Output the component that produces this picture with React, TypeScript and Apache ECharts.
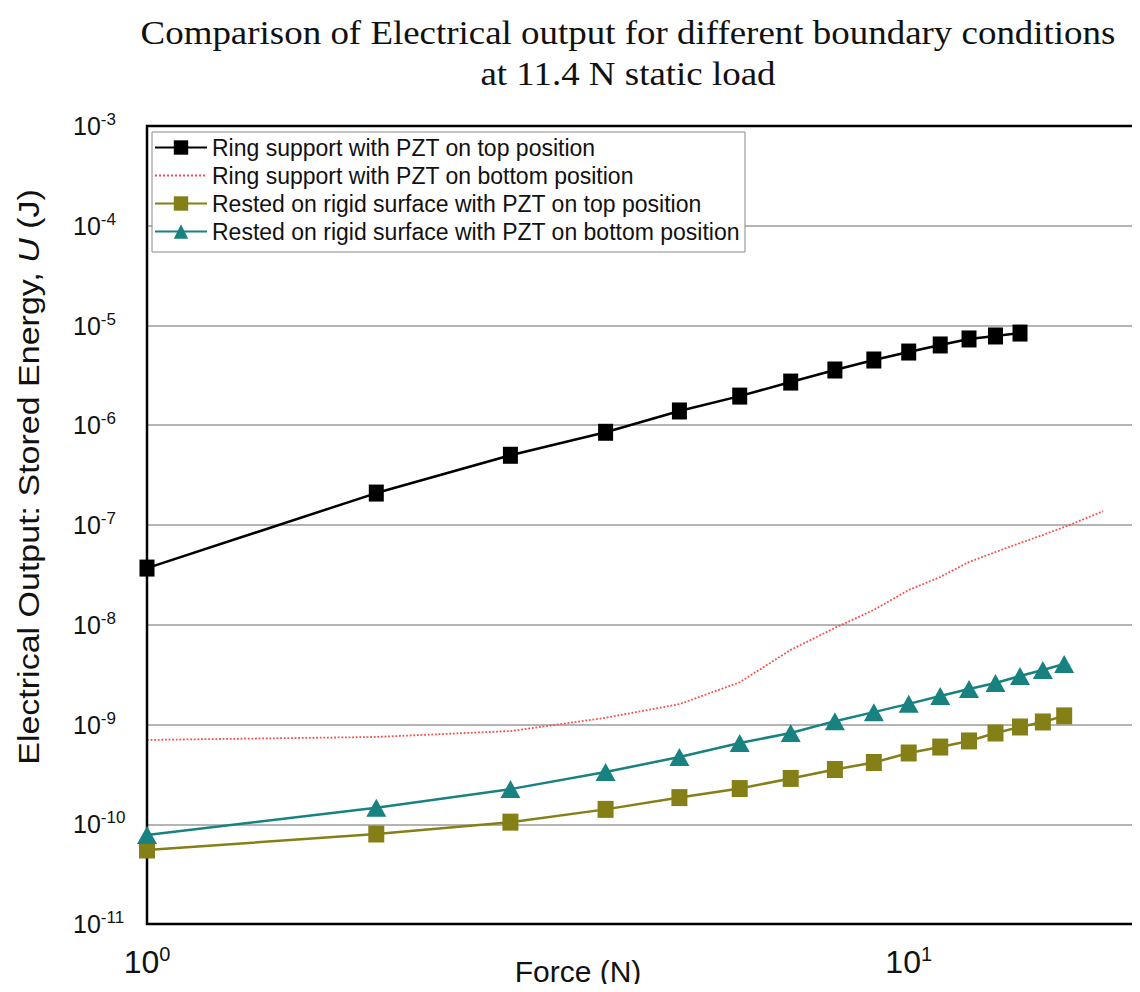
import React, { useEffect, useRef } from 'react';
import * as echarts from 'echarts';

const TITLE_LINES = [
  'Comparison of Electrical output for different boundary conditions',
  'at 11.4 N static load',
];
const SERIES_NAMES = [
  'Ring support with PZT on top position',
  'Ring support with PZT on bottom position',
  'Rested on rigid surface with PZT on top position',
  'Rested on rigid surface with PZT on bottom position',
];
const X_AXIS_NAME = 'Force (N)';
const Y_AXIS_NAME_PARTS = ['Electrical Output: Stored Energy, ', 'U', ' (J)'];

const forceRingTop = [1, 2, 3, 4, 5, 6, 7, 8, 9, 10, 11, 12, 13, 14];
const energyRingTop = [3.7e-8, 2.09e-7, 5.0e-7, 8.5e-7, 1.39e-6, 1.96e-6, 2.71e-6, 3.58e-6, 4.51e-6, 5.42e-6, 6.38e-6, 7.33e-6, 7.85e-6, 8.4e-6];

const forceRingBottom = [1, 2, 3, 4, 5, 6, 7, 8, 9, 10, 11, 12, 13, 14, 15, 16, 17, 18];
const energyRingBottom = [7.0e-10, 7.5e-10, 8.6e-10, 1.17e-9, 1.6e-9, 2.65e-9, 5.6e-9, 9.3e-9, 1.41e-8, 2.23e-8, 3.01e-8, 4.26e-8, 5.36e-8, 6.6e-8, 7.94e-8, 9.55e-8, 1.15e-7, 1.38e-7];

const forceRigidTop = [1, 2, 3, 4, 5, 6, 7, 8, 9, 10, 11, 12, 13, 14, 15, 16];
const energyRigidTop = [5.52e-11, 7.98e-11, 1.05e-10, 1.41e-10, 1.85e-10, 2.28e-10, 2.88e-10, 3.54e-10, 4.16e-10, 5.18e-10, 5.94e-10, 6.84e-10, 8.22e-10, 9.44e-10, 1.06e-9, 1.22e-9];

const forceRigidBottom = [1, 2, 3, 4, 5, 6, 7, 8, 9, 10, 11, 12, 13, 14, 15, 16];
const energyRigidBottom = [7.8e-11, 1.46e-10, 2.25e-10, 3.34e-10, 4.72e-10, 6.53e-10, 8.22e-10, 1.08e-9, 1.33e-9, 1.61e-9, 1.93e-9, 2.27e-9, 2.61e-9, 3.06e-9, 3.52e-9, 4.04e-9];

const X_MIN = 1;
const X_MAX = 20;
const Y_MIN = 1e-11;
const Y_MAX = 1e-3;

const pairs = (xs: number[], ys: number[]) => xs.map((x, i) => [x, ys[i]]);

const SANS = '"Liberation Sans", Arial, sans-serif';
const SERIF = '"Liberation Serif", "Times New Roman", serif';

function App() {
  const ref = useRef<HTMLDivElement>(null);
  useEffect(() => {
    if (!ref.current) return;
    const chart = echarts.init(ref.current, undefined, { renderer: 'svg' });
    const option: any = {
      animation: false,
      backgroundColor: '#fff',
      legend: {
        orient: 'vertical',
        left: 152,
        top: 132,
        padding: [4, 5, 9, 2],
        itemGap: 5,
        itemWidth: 52,
        itemHeight: 18,
        borderColor: '#8a8a8a',
        borderWidth: 1,
        backgroundColor: '#fff',
        textStyle: { fontFamily: SANS, fontSize: 23, color: '#111', lineHeight: 22 },
        data: [
          { name: SERIES_NAMES[0] },
          { name: SERIES_NAMES[1], itemStyle: { color: 'rgba(0,0,0,0)', opacity: 0, borderWidth: 0 } },
          { name: SERIES_NAMES[2] },
          { name: SERIES_NAMES[3] },
        ],
      },
      grid: {
        left: 147,
        right: 2,
        top: 126,
        bottom: 68,
        show: true,
        borderColor: '#000',
        borderWidth: 2.5,
        backgroundColor: 'transparent',
        z: 3,
      },
      xAxis: {
        type: 'log',
        logBase: 10,
        min: X_MIN,
        max: X_MAX,
        axisLine: { show: false },
        axisTick: { show: false },
        splitLine: { show: false },
        minorTick: { show: false },
        axisLabel: {
          margin: 20,
          showMinLabel: true,
          showMaxLabel: false,
          formatter: (v: number) => {
            const e = Math.log10(v);
            if (Math.abs(e - Math.round(e)) > 1e-6) return '';
            return `{b|10}{s|${Math.round(e)}}`;
          },
          rich: {
            b: { fontFamily: SANS, fontSize: 32, color: '#111', lineHeight: 36 },
            s: { fontFamily: SANS, fontSize: 20, color: '#111', lineHeight: 20, verticalAlign: 'top' },
          },
        },
      },
      yAxis: {
        type: 'log',
        logBase: 10,
        min: Y_MIN,
        max: Y_MAX,
        axisLine: { show: false },
        axisTick: { show: false },
        minorTick: { show: false },
        splitLine: { show: true, lineStyle: { color: '#b4b4b4', width: 2 } },
        axisLabel: {
          margin: 74,
          align: 'left',
          showMinLabel: true,
          showMaxLabel: true,
          formatter: (v: number) => `{b|10}{s|${Math.round(Math.log10(v))}}`,
          rich: {
            b: { fontFamily: SANS, fontSize: 25, color: '#111', lineHeight: 30 },
            s: { fontFamily: SANS, fontSize: 17, color: '#111', lineHeight: 17, verticalAlign: 'top' },
          },
        },
      },
      graphic: [
        {
          type: 'text',
          x: 628,
          y: 33,
          scaleX: 1.12,
          style: {
            text: TITLE_LINES[0],
            fontFamily: SERIF,
            fontSize: 33,
            fill: '#111',
            align: 'center',
            verticalAlign: 'middle',
          },
        },
        {
          type: 'text',
          x: 628,
          y: 74,
          scaleX: 1.12,
          style: {
            text: TITLE_LINES[1],
            fontFamily: SERIF,
            fontSize: 33,
            fill: '#111',
            align: 'center',
            verticalAlign: 'middle',
          },
        },
        {
          type: 'text',
          x: 578,
          y: 971,
          style: {
            text: X_AXIS_NAME,
            fontFamily: SANS,
            fontSize: 30,
            fill: '#111',
            align: 'center',
            verticalAlign: 'middle',
          },
        },
        {
          type: 'text',
          x: 29,
          y: 477,
          rotation: Math.PI / 2,
          scaleY: 0.85,
          style: {
            text: `{n|${Y_AXIS_NAME_PARTS[0]}}{i|${Y_AXIS_NAME_PARTS[1]}}{n|${Y_AXIS_NAME_PARTS[2]}}`,
            align: 'center',
            verticalAlign: 'middle',
            rich: {
              n: { fontFamily: SANS, fontSize: 34, fill: '#111', color: '#111' },
              i: { fontFamily: SANS, fontSize: 34, fontStyle: 'italic', fill: '#111', color: '#111' },
            },
          },
        },
      ],
      series: [
        {
          name: SERIES_NAMES[0],
          type: 'line',
          data: pairs(forceRingTop, energyRingTop),
          symbol: 'rect',
          symbolSize: [15, 17],
          color: '#000',
          itemStyle: { color: '#000' },
          lineStyle: { color: '#000', width: 2.5 },
          z: 4,
        },
        {
          name: SERIES_NAMES[1],
          type: 'line',
          data: pairs(forceRingBottom, energyRingBottom),
          symbol: 'none',
          showSymbol: false,
          color: '#ff4a4a',
          itemStyle: { color: '#ff4a4a' },
          lineStyle: { color: '#ff4a4a', width: 1.8, type: 'dotted' },
          z: 2,
        },
        {
          name: SERIES_NAMES[2],
          type: 'line',
          data: pairs(forceRigidTop, energyRigidTop),
          symbol: 'rect',
          symbolSize: [16, 17],
          color: '#857f17',
          itemStyle: { color: '#857f17' },
          lineStyle: { color: '#857f17', width: 2.5 },
          z: 4,
        },
        {
          name: SERIES_NAMES[3],
          type: 'line',
          data: pairs(forceRigidBottom, energyRigidBottom),
          symbol: 'triangle',
          symbolSize: [20, 18],
          color: '#17827f',
          itemStyle: { color: '#17827f' },
          lineStyle: { color: '#17827f', width: 2.5 },
          z: 4,
        },
      ],
    };
    chart.setOption(option);
    return () => chart.dispose();
  }, []);
  return <div ref={ref} style={{ width: 1140, height: 992, margin: -8 }} />;
}

export default App;
